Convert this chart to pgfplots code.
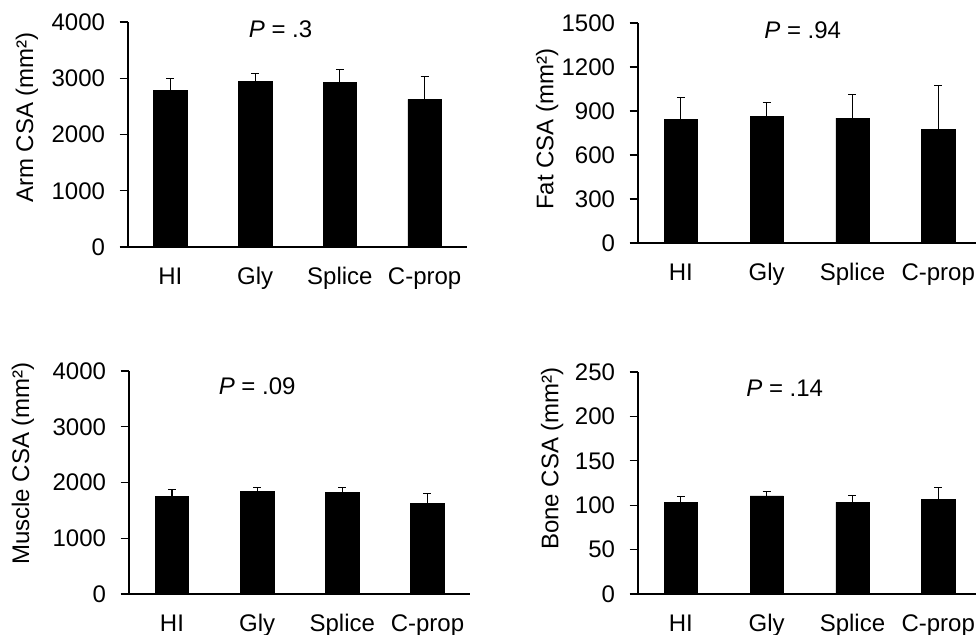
\documentclass[border=0pt]{standalone}
\usepackage{pgfplots}
\pgfplotsset{compat=1.18}
\usepackage{pgfplotstable}
\usepackage{fontspec}
\setmainfont{Liberation Sans}

\pgfplotstableread{
x y e
0 2780 210
1 2950 140
2 2925 230
3 2625 400
}\armdata
\pgfplotstableread{
x y e
0 845 144
1 864 97
2 852 159
3 775 300
}\fatdata
\pgfplotstableread{
x y e
0 1752 114
1 1836 77
2 1818 95
3 1620 180
}\muscledata
\pgfplotstableread{
x y e
0 103.4 6.0
1 110.6 5.2
2 103.4 7.5
3 106.8 13.1
}\bonedata

\pgfplotsset{
  panel/.style={
    scale only axis,
    anchor=south west,
    clip=false,
    axis x line*=bottom,
    axis y line*=left,
    axis line style={line width=0.8pt, black},
    xtick={0,1,2,3},
    xticklabels={HI,Gly,Splice,C-prop},
    xtick style={draw=none},
    ytick style={line width=0.8pt, black},
    tick align=outside,
    major tick length=6.2pt,
    ymin=0,
    /pgf/number format/assume math mode=true,
    /pgf/number format/1000 sep={},
    tick label style={font=\fontsize{18}{21}\selectfont},
    label style={font=\fontsize{18}{21}\selectfont},
    xticklabel style={anchor=base, yshift=-21.9pt},
    yticklabel style={xshift=-7.5pt},
  },
  barplot/.style={
    ybar, bar width=25pt, fill=black, draw=black,
    error bars/.cd, y dir=plus, y explicit,
    error bar style={line width=0.8pt, black},
    error mark options={rotate=90, line width=0.8pt, mark size=3pt, black},
  },
}

\begin{document}
\begin{tikzpicture}
\path[use as bounding box] (0,0) rectangle (732pt,476.25pt);

% Panel 1: Arm
\begin{axis}[panel,
  at={(96pt,291pt)}, width=254.25pt, height=168.75pt,
  xmin=-0.5, xmax=3.5, ymax=4000, ytick={0,1000,2000,3000,4000},
  ylabel={Arm CSA (mm²)},
  y label style={at={(axis description cs:-0.298,0.576)}, anchor=center},
]
\addplot[barplot] table[x=x, y=y, y error=e] {\armdata};
\node[font=\fontsize{18}{21}\selectfont] at (axis cs:1.3,3870) {\textit{P} = .3};
\end{axis}

% Panel 2: Fat
\begin{axis}[panel,
  at={(478.5pt,294pt)}, width=253.5pt, height=165pt,
  xmin=-0.5, xmax=3.44, ymax=1500, ytick={0,300,600,900,1200,1500},
  ylabel={Fat CSA (mm²)},
  y label style={at={(axis description cs:-0.269,0.518)}, anchor=center},
]
\addplot[barplot] table[x=x, y=y, y error=e] {\fatdata};
\node[font=\fontsize{18}{21}\selectfont] at (axis cs:1.42,1448) {\textit{P} = .94};
\end{axis}

% Panel 3: Muscle
\begin{axis}[panel,
  at={(96.75pt,30.75pt)}, width=255.75pt, height=167.25pt,
  xmin=-0.505, xmax=3.5, ymax=4000, ytick={0,1000,2000,3000,4000},
  ylabel={Muscle CSA (mm²)},
  y label style={at={(axis description cs:-0.311,0.585)}, anchor=center},
]
\addplot[barplot] table[x=x, y=y, y error=e] {\muscledata};
\node[font=\fontsize{18}{21}\selectfont] at (axis cs:1.0,3718) {\textit{P} = .09};
\end{axis}

% Panel 4: Bone
\begin{axis}[panel,
  at={(478.5pt,30.75pt)}, width=253.5pt, height=166.5pt,
  xmin=-0.5, xmax=3.44, ymax=250, ytick={0,50,100,150,200,250},
  ylabel={Bone CSA (mm²)},
  y label style={at={(axis description cs:-0.254,0.61)}, anchor=center},
]
\addplot[barplot] table[x=x, y=y, y error=e] {\bonedata};
\node[font=\fontsize{18}{21}\selectfont] at (axis cs:1.21,232) {\textit{P} = .14};
\end{axis}
\end{tikzpicture}
\end{document}
